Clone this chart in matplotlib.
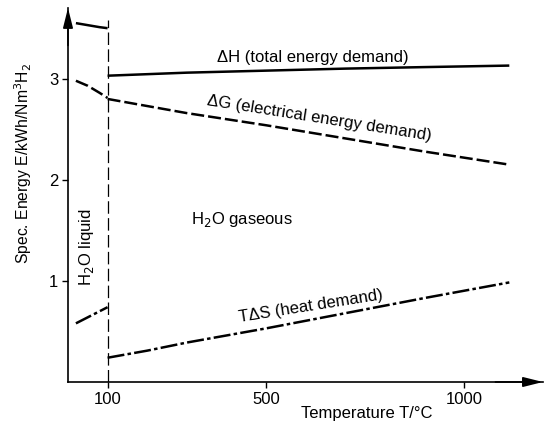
import numpy as np
import matplotlib.pyplot as plt

plt.rcParams['font.family'] = ['Liberation Sans', 'DejaVu Sans']

# temperatures (deg C) and specific energies (kWh/Nm3 H2)
t_liquid = [20, 50, 80, 100]
dh_liquid = [3.55, 3.53, 3.51, 3.50]
dg_liquid = [2.98, 2.93, 2.86, 2.81]
tds_liquid = [0.58, 0.64, 0.70, 0.74]

t_gas = [100, 200, 300, 500, 700, 900, 1115]
dh_gas = [3.03, 3.045, 3.06, 3.08, 3.10, 3.115, 3.13]
dg_gas = [2.80, 2.73, 2.66, 2.54, 2.41, 2.28, 2.15]
tds_gas = [0.24, 0.31, 0.39, 0.53, 0.68, 0.83, 0.985]

x_ticks = [100, 500, 1000]
y_ticks = [1, 2, 3]
t_phase = 100

fig = plt.figure(figsize=(5.51, 4.26), dpi=100)
ax = fig.add_axes([0.1234, 0.1033, 0.862, 0.878])

lw = 1.8
dash = (0, (5.2, 1.6))
dashdot = (0, (6.8, 1.3, 1.4, 1.3))

ax.plot(t_liquid, dh_liquid, color='black', lw=lw, solid_capstyle='butt')
ax.plot(t_liquid, dg_liquid, color='black', lw=lw, linestyle=dash)
ax.plot(t_liquid, tds_liquid, color='black', lw=lw, linestyle=dashdot)

ax.plot(t_gas, dh_gas, color='black', lw=lw, solid_capstyle='butt')
ax.plot(t_gas, dg_gas, color='black', lw=lw, linestyle=dash)
ax.plot(t_gas, tds_gas, color='black', lw=lw, linestyle=dashdot)

# phase boundary
ax.plot([t_phase, t_phase], [0, 3.58], color='black', lw=0.9,
        linestyle=(0, (10, 3.5)))

ax.set_xlim(0, 1200)
ax.set_ylim(0, 3.7)

for side in ['top', 'right']:
    ax.spines[side].set_visible(False)
ax.spines['left'].set_linewidth(1.2)
ax.spines['bottom'].set_linewidth(1.2)
arrow = dict(arrowstyle='-|>,head_length=1.2,head_width=0.3', color='black',
             lw=1.2, shrinkA=0, shrinkB=0)
ax.annotate('', xy=(0, 1.0), xytext=(0, 0.9), xycoords='axes fraction',
            arrowprops=arrow, annotation_clip=False)
ax.annotate('', xy=(1.0, 0), xytext=(0.9, 0), xycoords='axes fraction',
            arrowprops=arrow, annotation_clip=False)

ax.set_xticks(x_ticks)
ax.set_yticks(y_ticks)
ax.tick_params(direction='out', length=4, width=1, labelsize=12, pad=3)

ax.set_xlabel('Temperature T/°C', fontsize=12)
ax.xaxis.set_label_coords(0.63, -0.064)
fig.text(0.042, 0.617, 'Spec. Energy E/kWh/Nm$^3$H$_2$', rotation=90,
         ha='center', va='center', fontsize=11.3)

ax.text(619, 3.21, 'ΔH (total energy demand)', fontsize=12,
        ha='center', va='center')
ax.text(634, 2.61, 'ΔG (electrical energy demand)', fontsize=12,
        ha='center', va='center', rotation=-9, rotation_mode='anchor')
ax.text(614, 0.75, 'TΔS (heat demand)', fontsize=12,
        ha='center', va='center', rotation=9, rotation_mode='anchor')
ax.text(440, 1.61, 'H$_2$O gaseous', fontsize=12, ha='center', va='center')
ax.text(47, 1.33, 'H$_2$O liquid', fontsize=12, ha='center', va='center',
        rotation=90)

fig.savefig('out.png', dpi=100)
